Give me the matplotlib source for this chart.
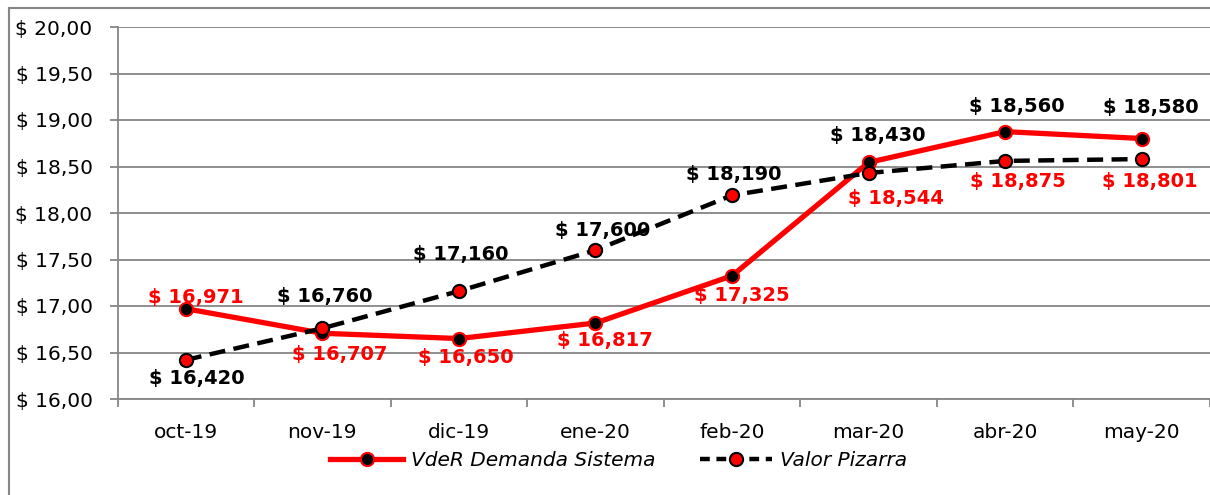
import matplotlib.pyplot as plt
from matplotlib.lines import Line2D
from matplotlib.ticker import FuncFormatter, MultipleLocator

plt.rcParams['font.family'] = ['DejaVu Sans']

meses = ['oct-19', 'nov-19', 'dic-19', 'ene-20', 'feb-20', 'mar-20', 'abr-20', 'may-20']
vder = [16.971, 16.707, 16.650, 16.817, 17.325, 18.544, 18.875, 18.801]
pizarra = [16.420, 16.760, 17.160, 17.600, 18.190, 18.430, 18.560, 18.580]

# label offsets in pixels (dx, dy), hand placed like the original
off_vder = [(10, 11), (17, -21), (7, -19), (9, -17), (10, -20), (27, -36), (13, -50), (8, -43)]
off_piz = [(11, -19), (2, 32), (2, 37), (7, 20), (2, 21), (9, 38), (12, 54), (9, 52)]

W, H = 1210, 495
fig = plt.figure(figsize=(W / 100, H / 100), dpi=100)
ax = fig.add_axes([117.5 / W, 1 - 399 / H, (W - 117.5) / W, (399 - 27) / H])

x = list(range(len(meses)))
grey = '#868686'

ax.plot(x, vder, color='red', lw=3.8, marker='o', ms=9.5,
        markerfacecolor='black', markeredgecolor='red', markeredgewidth=1.5, zorder=3)
ax.plot(x, pizarra, color='black', lw=3.2, ls=(0, (3.6, 1.9)), marker='o', ms=9.5,
        markerfacecolor='red', markeredgecolor='black', markeredgewidth=1.5, zorder=4)

fmt = lambda v: '$ ' + f'{v:.3f}'.replace('.', ',')
for i in x:
    dx, dy = off_vder[i]
    ax.annotate(fmt(vder[i]), (i, vder[i]), xytext=(dx, dy), textcoords='offset pixels',
                ha='center', va='center', color='red', fontsize=14, fontweight='bold', zorder=5)
    dx, dy = off_piz[i]
    ax.annotate(fmt(pizarra[i]), (i, pizarra[i]), xytext=(dx, dy), textcoords='offset pixels',
                ha='center', va='center', color='black', fontsize=14, fontweight='bold', zorder=5)

ax.set_ylim(16, 20)
ax.set_xlim(-0.5, -0.5 + (W - 117.5) / 138.3)
ax.yaxis.set_major_locator(MultipleLocator(0.5))
ax.yaxis.set_major_formatter(FuncFormatter(lambda v, p: '$ ' + f'{v:.2f}'.replace('.', ',')))
ax.grid(axis='y', color=grey, lw=1.3)
ax.set_axisbelow(True)

ax.set_xticks(x)
ax.set_xticklabels(meses)
ax.set_xticks([i - 0.5 for i in range(len(meses) + 1)], minor=True)
ax.tick_params(axis='x', which='major', length=0, pad=17, labelsize=14.5)
ax.tick_params(axis='x', which='minor', length=5.5, width=1.3, color=grey)
ax.tick_params(axis='y', length=6, width=1.3, color=grey, pad=12, labelsize=14.5)

for s in ['top', 'right']:
    ax.spines[s].set_visible(False)
for s in ['left', 'bottom']:
    ax.spines[s].set_color(grey)
    ax.spines[s].set_linewidth(1.3)

handles = [
    Line2D([], [], color='red', lw=3.8, marker='o', ms=9.5, markerfacecolor='black',
           markeredgecolor='red', markeredgewidth=1.5),
    Line2D([], [], color='black', lw=3.2, ls=(0, (2.2, 1.5)), marker='o', ms=9.5,
           markerfacecolor='red', markeredgecolor='black', markeredgewidth=1.5),
]
fig.legend(handles, ['VdeR Demanda Sistema', 'Valor Pizarra'], loc='center',
           bbox_to_anchor=(619 / W, 1 - 461 / H), ncol=2, frameon=False,
           prop={'style': 'italic', 'size': 14.5}, handlelength=3.6, columnspacing=2.2,
           handletextpad=0.4)

# outer chart border (only top and left visible)
fig.add_artist(Line2D([9 / W, 9 / W], [0, 1 - 8 / H], color=grey, lw=1.5, transform=fig.transFigure))
fig.add_artist(Line2D([9 / W, 1], [1 - 8 / H, 1 - 8 / H], color=grey, lw=1.5, transform=fig.transFigure))

fig.savefig('out.png', dpi=100)
